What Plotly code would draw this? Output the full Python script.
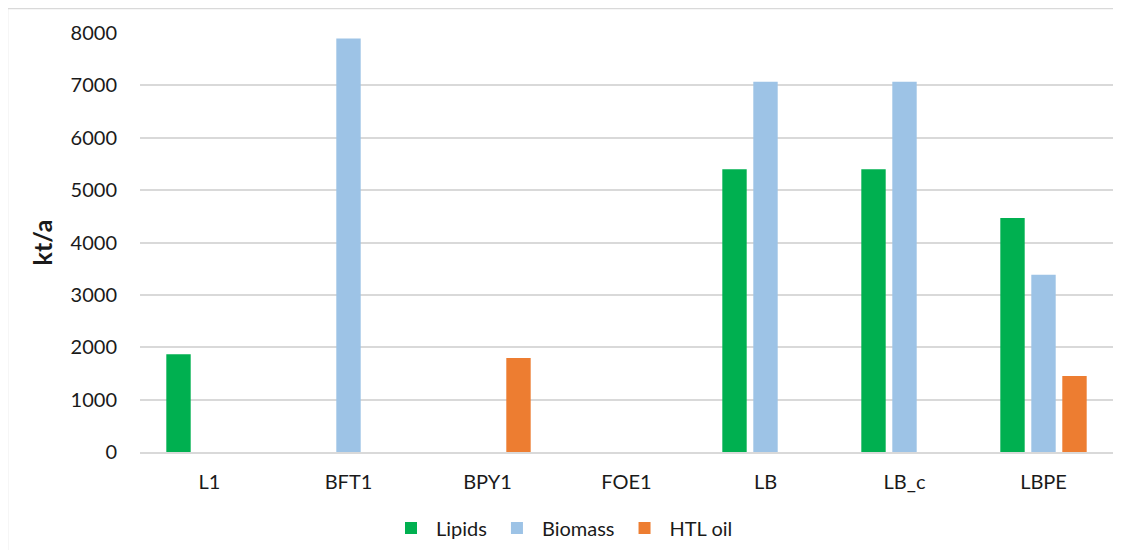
import plotly.graph_objects as go

categories = ["L1", "BFT1", "BPY1", "FOE1", "LB", "LB_c", "LBPE"]
lipids = [1865, None, None, None, 5400, 5400, 4470]
biomass = [None, 7895, None, None, 7070, 7070, 3385]
htl_oil = [None, None, 1795, None, None, None, 1450]

colors = {"Lipids": "#00B050", "Biomass": "#9DC3E6", "HTL oil": "#ED7D31"}

# page body has an 8px margin; all reference pixel positions are offset by it
OFF = 8
W, H = 1113, 542
L, R, T, B = 140 - OFF, 8, 33 - OFF, 98
pw, ph = W - L - R, H - T - B

fig = go.Figure()
for name, vals in [("Lipids", lipids), ("Biomass", biomass), ("HTL oil", htl_oil)]:
    fig.add_trace(go.Bar(x=categories, y=vals, name=name,
                         marker=dict(color=colors[name], line=dict(width=0))))

font_family = "Lato, 'Open Sans', sans-serif"

def px2x(p):
    return (p - OFF - L) / pw

def px2y(p):
    return (H - B - (p - OFF)) / ph

fig.update_layout(
    width=W, height=H,
    margin=dict(l=L, r=R, t=T, b=B, autoexpand=False),
    paper_bgcolor="white", plot_bgcolor="white",
    barmode="group", bargap=0.331, bargroupgap=0.213,
    font=dict(family=font_family, size=20, color="#1a1a1a"),
    xaxis=dict(showgrid=False, showline=True, linecolor="#d9d9d9", linewidth=1.5,
               ticks="", ticklabelstandoff=11, tickfont=dict(size=20)),
    yaxis=dict(range=[0, 8000], dtick=1000, showgrid=True, gridcolor="#d9d9d9",
               gridwidth=1.5, zeroline=False, showline=False, ticks="",
               ticklabelstandoff=22, tickfont=dict(size=20),
               title=dict(text="<b>kt/a</b>", font=dict(size=25), standoff=10)),
    legend=dict(orientation="h", x=px2x(386), xanchor="left", y=px2y(528), yanchor="middle",
                font=dict(size=20), itemwidth=40, tracegroupgap=0,
                bgcolor="rgba(0,0,0,0)"),
    showlegend=True,
)

# outer chart border
fig.add_shape(type="rect", xref="paper", yref="paper",
              x0=px2x(7.5), x1=px2x(W + 40), y0=px2y(H + 40), y1=px2y(8.5),
              line=dict(color="#d9d9d9", width=1.5), fillcolor="rgba(0,0,0,0)", layer="below")

fig.write_html("out.html")
